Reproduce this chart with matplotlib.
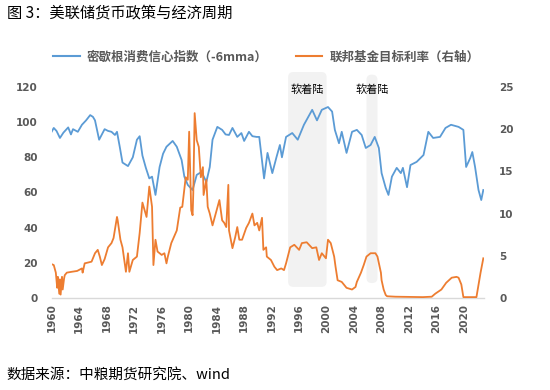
import matplotlib
matplotlib.use("Agg")
import matplotlib.pyplot as plt
from matplotlib.patches import FancyBboxPatch
from matplotlib.lines import Line2D
from matplotlib.patches import BoxStyle

CJK = ['Noto Sans CJK SC', 'DejaVu Sans']

# ---- data ----
sent_years = [1960.0, 1960.3, 1960.7, 1961.2, 1961.7, 1962.4, 1962.8, 1963.1, 1963.8, 1964.4,
              1965.0, 1965.6, 1966.0, 1966.3, 1966.9, 1967.3, 1967.7, 1968.2, 1968.7, 1969.2,
              1969.5, 1969.9, 1970.3, 1970.7, 1971.1, 1971.8, 1972.4, 1972.8, 1973.2, 1973.7,
              1974.2, 1974.6, 1975.1, 1975.7, 1976.2, 1976.7, 1977.6, 1978.2, 1978.9, 1979.3,
              1979.8, 1980.5, 1981.1, 1981.8, 1982.5, 1983.0, 1983.4, 1984.1, 1984.8, 1985.3,
              1985.8, 1986.3, 1987.0, 1987.6, 1988.0, 1988.7, 1989.2, 1989.8, 1990.2, 1990.9,
              1991.4, 1992.1, 1992.7, 1993.2, 1993.5, 1994.1, 1995.0, 1995.8, 1996.7, 1997.9,
              1998.6, 1999.3, 2000.2, 2000.8, 2001.2, 2001.8, 2002.2, 2002.9, 2003.7, 2004.4,
              2005.1, 2005.7, 2006.4, 2007.0, 2007.6, 2008.0, 2008.6, 2009.0, 2009.5, 2010.2,
              2010.8, 2011.1, 2011.7, 2012.2, 2013.1, 2014.1, 2014.8, 2015.5, 2016.5, 2017.3,
              2018.1, 2019.2, 2019.9, 2020.3, 2020.9, 2021.2, 2021.6, 2022.1, 2022.5, 2022.8]
sent_values = [94.6, 96.7, 95, 91, 94, 97, 93, 96, 94.5, 98.5,
               101, 104, 103, 101, 90, 93, 96, 95, 94.5, 92.7,
               94.5, 86, 77, 76, 75, 80, 90, 92, 81, 74,
               68, 69, 58.6, 74.5, 82, 86, 89.3, 86, 78.5, 69,
               64.3, 61.4, 70, 71.7, 66, 74.5, 90, 97.3, 95.6, 93,
               92.7, 96.7, 91.6, 93.8, 89.3, 94.5, 92, 91.6, 91.6, 68,
               82.5, 71, 80, 87, 80, 91.6, 93.8, 90, 98.5, 107,
               101, 107, 108.6, 106, 95.6, 88, 94.5, 82.5, 94.5, 95.6,
               92.7, 85.3, 87, 91.6, 85.3, 71, 62.6, 58.6, 69, 74,
               71, 74, 63, 75.6, 77.4, 81.3, 94.5, 91, 91.6, 96.7,
               98.5, 97.3, 95.6, 74.5, 79.6, 83, 74.5, 61.4, 55.7, 61.4]

rate_years = [1960.0, 1960.3, 1960.6, 1960.8, 1960.9, 1961.1, 1961.2, 1961.3, 1961.5, 1961.6,
              1961.8, 1961.9, 1962.2, 1962.9, 1963.7, 1964.4, 1964.5, 1964.8, 1965.8, 1966.3,
              1966.7, 1967.0, 1967.3, 1967.7, 1968.2, 1968.7, 1969.0, 1969.5, 1969.6, 1970.0,
              1970.3, 1970.8, 1971.1, 1971.3, 1971.8, 1972.4, 1972.8, 1973.2, 1973.8, 1974.2,
              1974.6, 1974.8, 1975.1, 1975.4, 1976.0, 1976.4, 1976.7, 1976.9, 1977.4, 1978.2,
              1978.7, 1979.0, 1979.5, 1979.8, 1980.0, 1980.3, 1980.5, 1980.6, 1980.8, 1981.1,
              1981.4, 1981.7, 1982.0, 1982.1, 1982.5, 1982.7, 1983.0, 1983.4, 1984.0, 1984.4,
              1984.8, 1985.1, 1985.4, 1985.7, 1985.8, 1986.3, 1986.7, 1987.0, 1987.3, 1987.7,
              1988.3, 1988.7, 1989.2, 1989.5, 1989.9, 1990.2, 1990.6, 1990.8, 1991.2, 1991.3,
              1991.9, 1992.4, 1992.8, 1993.4, 1993.8, 1994.1, 1994.7, 1995.3, 1996.0, 1996.4,
              1997.1, 1997.9, 1998.5, 1998.9, 1999.3, 1999.9, 2000.2, 2000.6, 2001.1, 2001.3,
              2001.6, 2002.2, 2002.9, 2003.7, 2004.2, 2004.4, 2005.0, 2005.4, 2005.8, 2006.4,
              2007.1, 2007.4, 2007.9, 2008.0, 2008.3, 2008.6, 2008.8, 2010.0, 2012.0, 2014.0,
              2015.3, 2015.8, 2016.7, 2017.4, 2018.2, 2018.9, 2019.2, 2019.6, 2019.9, 2021.8,
              2022.4, 2022.8]
rate_values = [4.0, 3.9, 3.0, 1.2, 2.5, 0.5, 2.2, 0.4, 2.5, 1.0,
               2.3, 2.7, 3.0, 3.1, 3.2, 3.5, 3.0, 4.1, 4.3, 5.3,
               5.7, 4.9, 3.9, 4.6, 6.0, 6.5, 7.1, 9.6, 9.2, 6.9,
               6.0, 3.1, 5.3, 3.1, 4.5, 4.9, 7.7, 11.3, 9.6, 13.2,
               10.8, 3.9, 6.9, 5.5, 5.1, 5.3, 4.1, 4.9, 6.5, 8.0,
               10.7, 10.8, 14.3, 14.0, 19.7, 10.4, 9.8, 12.4, 21.9, 18.7,
               17.9, 14.3, 15.5, 12.2, 14.0, 10.8, 10.0, 8.6, 10.4, 11.6,
               9.2, 8.9, 8.4, 13.4, 8.0, 5.9, 7.2, 8.4, 6.9, 6.9,
               8.3, 8.9, 10.0, 8.6, 8.9, 8.0, 9.5, 5.7, 6.0, 4.9,
               4.5, 3.7, 3.3, 3.5, 3.3, 4.1, 6.0, 6.3, 5.7, 6.5,
               6.6, 5.9, 6.0, 4.5, 5.3, 4.7, 6.9, 6.5, 4.9, 3.7,
               2.1, 1.9, 1.2, 1.0, 1.3, 1.9, 3.0, 3.9, 4.9, 5.3,
               5.3, 4.9, 3.0, 2.1, 1.0, 0.35, 0.2, 0.15, 0.12, 0.1,
               0.15, 0.5, 1.0, 1.8, 2.4, 2.5, 2.4, 1.6, 0.1, 0.1,
               3.0, 4.7]

year_ticks = list(range(1960, 2021, 4))
left_ticks = [0, 20, 40, 60, 80, 100, 120]
right_ticks = [0, 5, 10, 15, 20, 25]

# soft landing periods: (start, end, bottom, top) in left-axis units
soft_landings = [(1994.4, 2000.0, 6.3, 128.5), (2005.8, 2007.4, 8.5, 127.0)]
soft_label = "软着陆"

series1_name = "密歇根消费信心指数（-6mma）"
series2_name = "联邦基金目标利率（右轴）"
title = "图 3：美联储货币政策与经济周期"
source = "数据来源：中粮期货研究院、wind"

blue = "#5B9BD5"
orange = "#ED7D31"
tick_color = "#595959"

fig = plt.figure(figsize=(5.5, 3.9), dpi=100)
ax = fig.add_axes([0.094, 0.236, 0.786, 0.541])
ax2 = ax.twinx()

ax.set_xlim(1960, 2022.9)
ax.set_ylim(0, 120)
ax2.set_ylim(0, 25)

# shaded regions (rounded)
for (x0, x1, y0, y1) in soft_landings:
    p = FancyBboxPatch((x0, y0), x1 - x0, y1 - y0,
                       boxstyle=BoxStyle.Round(pad=0, rounding_size=0.75),
                       mutation_aspect=3.9, transform=ax.transData,
                       facecolor="#F2F2F2", edgecolor="none", clip_on=False, zorder=0.5)
    ax.add_patch(p)
    ax.text((x0 + x1) / 2, 118.3, soft_label, ha="center", va="center",
            fontsize=8, family=CJK, color="#000000", zorder=3)

l1, = ax.plot(sent_years, sent_values, color=blue, lw=1.3, zorder=2)
l2, = ax2.plot(rate_years, rate_values, color=orange, lw=1.3, zorder=2)

for a in (ax, ax2):
    for s in a.spines.values():
        s.set_visible(False)
ax.spines["bottom"].set_visible(True)
ax.spines["bottom"].set_color("#D9D9D9")
ax.spines["bottom"].set_linewidth(1.0)

ax.set_xticks(year_ticks)
ax.set_xticklabels([str(y) for y in year_ticks], rotation=90, fontsize=7.5,
                   fontweight="bold", color=tick_color, family="DejaVu Sans")
ax.set_yticks(left_ticks)
ax.set_yticklabels([str(v) for v in left_ticks], fontsize=7.5, fontweight="bold",
                   color=tick_color, family="DejaVu Sans")
ax2.set_yticks(right_ticks)
ax2.set_yticklabels([str(v) for v in right_ticks], fontsize=7.5, fontweight="bold",
                    color=tick_color, family="DejaVu Sans")
ax.tick_params(axis="x", length=0, pad=4)
ax.tick_params(axis="y", length=0, pad=10)
ax2.tick_params(axis="y", length=0, pad=11)

ax.patch.set_visible(False)

# legend above plot
leg = fig.legend([l1, l2], [series1_name, series2_name], loc="center left",
                 bbox_to_anchor=(0.097, 0.853), ncol=2, frameon=False,
                 handlelength=2.1, handletextpad=0.55, columnspacing=2.3,
                 borderpad=0, borderaxespad=0,
                 prop={"family": CJK, "size": 9, "weight": "bold"})
for t in leg.get_texts():
    t.set_color(tick_color)
for h in leg.legend_handles:
    h.set_linewidth(1.5)

fig.text(0.012, 0.966, title, fontsize=11, family=CJK, color="#000000",
         ha="left", va="center")
fig.text(0.012, 0.038, source, fontsize=10.5, family=CJK, color="#000000",
         ha="left", va="center")

fig.savefig("out.png", dpi=100)
